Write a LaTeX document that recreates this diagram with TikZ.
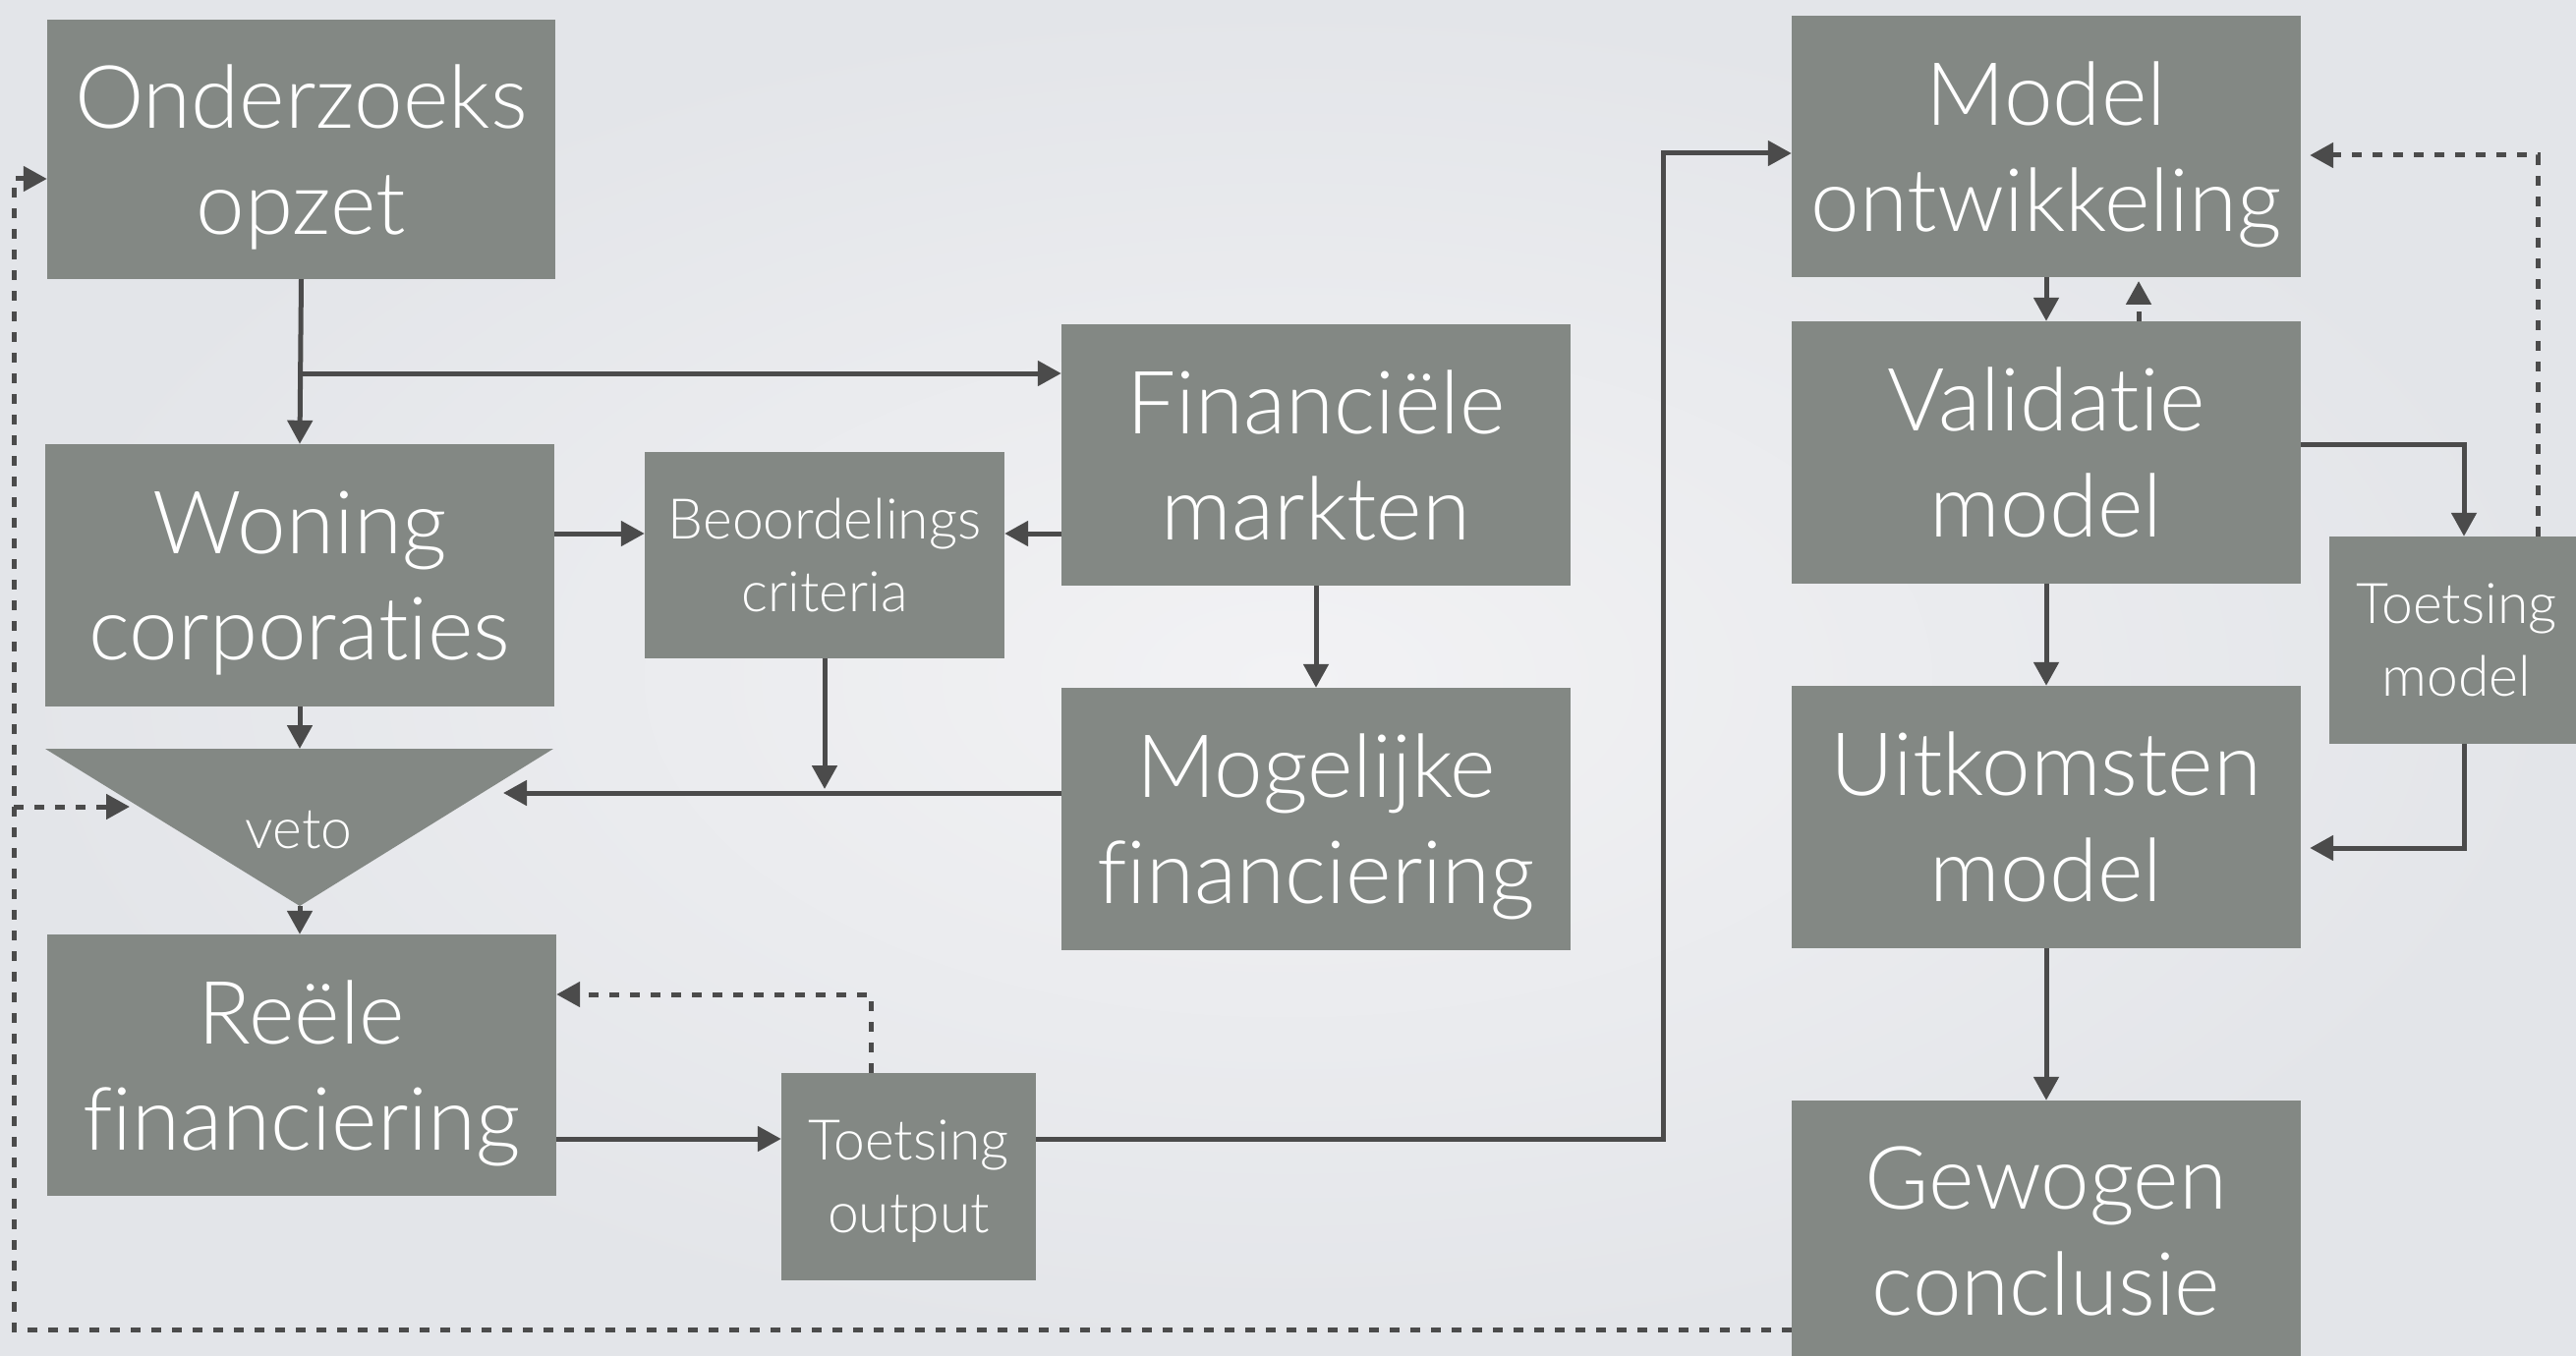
\documentclass[tikz,border=0pt]{standalone}
\usepackage{fontspec}
\setmainfont{Lato}[UprightFont=* Light,Ligatures=NoCommon]
\usetikzlibrary{arrows.meta}
\definecolor{boxgray}{HTML}{838884}
\definecolor{linegray}{HTML}{4B4B4B}
\definecolor{bgin}{HTML}{F2F2F4}
\definecolor{bgout}{HTML}{E3E5E9}

\begin{document}
\begin{tikzpicture}[x=1pt,y=-1pt,
  % labels are centred on their letters, descenders ignored
  blok/.style={fill=boxgray,text=white,inner sep=0pt,align=center,text depth=0pt},
  bigbox/.style={blok,minimum width=518pt,minimum height=266pt,font=\fontsize{89}{108}\selectfont},
  smallbox/.style={blok,font=\fontsize{57}{74}\selectfont},
  flow/.style={draw=linegray,line width=5pt,-{Triangle[length=24pt,width=25pt]}},
  back/.style={flow,dash pattern=on 10pt off 11pt},
]
% page and soft background
\useasboundingbox (0,0) rectangle (2621,1380);
\shade[inner color=bgin,outer color=bgout] (0,0) rectangle (2621,1380);

% left column
\node[bigbox,minimum width=517pt,minimum height=264pt] (onder) at (306.5,152) {Onderzoeks\\opzet};
\node[bigbox,minimum height=267pt] (woning) at (305,585.5) {Woning\\corporaties};
\node[smallbox,minimum width=366pt,minimum height=210pt] (beoord) at (839,565) {Beoordelings\\criteria};
\node[bigbox] (finmkt) at (1339,463) {Financiële\\markten};
\node[bigbox,minimum height=267pt] (mogel) at (1339,833.5) {Mogelijke\\financiering};
\node[bigbox] (reeel) at (307,1084) {Reële\\financiering};
\node[smallbox,minimum width=259pt,minimum height=211pt] (toutput) at (924.5,1197.5) {Toetsing\\output};

% veto funnel
\coordinate (vTL) at (46,762);
\coordinate (vTR) at (563,762);
\coordinate (vB) at (305,922);
\fill[boxgray] (vTL) -- (vTR) -- (vB) -- cycle;
\node[text=white,inner sep=0pt,font=\fontsize{57}{74}\selectfont] (veto) at (304,845) {veto};

% right column
\node[bigbox] (modelont) at (2082,149) {Model\\ontwikkeling};
\node[bigbox,minimum height=267pt] (valid) at (2082,460.5) {Validatie\\model};
\node[bigbox,minimum height=267pt] (uitk) at (2082,831.5) {Uitkomsten\\model};
\node[bigbox] (gewog) at (2082,1253) {Gewogen\\conclusie};
\node[smallbox,minimum width=259pt,minimum height=211pt] (tmodel) at (2499.5,651.5) {Toetsing\\model};

% helper rows and bends
\coordinate (r380) at (0,380);
\coordinate (r543) at (0,543);
\coordinate (r803) at (0,803);
\coordinate (r1159) at (0,1159);
\coordinate (vR) at (512,807);
\coordinate (vL) at (132,821);
\coordinate (tdash) at (886,1012);
\coordinate (up) at (1692,156);
\coordinate (vu) at (2176,286);
\coordinate (vt) at (2507,452);
\coordinate (tu) at (2507,863);
\coordinate (tb) at (2582,158);
\coordinate (lb) at (14,1353);
\coordinate (lt) at (14,182);
\coordinate (lv) at (14,821);

% solid flow
\draw[flow] (onder.south) -- (woning.north);
\draw[flow] (onder.south |- r380) -- (finmkt.west |- r380);
\draw[flow] (woning.east |- r543) -- (beoord.west |- r543);
\draw[flow] (finmkt.west |- r543) -- (beoord.east |- r543);
\draw[flow] (finmkt.south) -- (mogel.north);
\draw[flow] (mogel.west |- vR) -- (vR);
\draw[flow] (beoord.south) -- (beoord.south |- r803);
\draw[flow] (woning.south) -- (woning.south |- vTL);
\draw[flow] (vB) -- (vB |- reeel.north);
\draw[flow] (reeel.east |- r1159) -- (toutput.west |- r1159);
\draw[flow] (toutput.east |- r1159) -| (up) -- (modelont.west |- up);
\draw[flow] (modelont.south) -- (valid.north);
\draw[flow] (valid.east |- vt) -| (tmodel.north -| vt);
\draw[flow] (tmodel.south -| tu) |- ([xshift=9pt]uitk.east |- tu);
\draw[flow] (valid.south) -- (uitk.north);
\draw[flow] (uitk.south) -- (gewog.north);

% dashed feedback
\draw[back] (toutput.north -| tdash) -- (tdash) -- (reeel.east |- tdash);
\draw[back] (valid.north -| vu) -- (vu);
\draw[back] (tmodel.north -| tb) |- ([xshift=9pt]modelont.east |- tb);
\draw[back] (gewog.west |- lb) -- (lb) -- (lt) -- (onder.west |- lt);
\draw[back] (lv) -- (vL);
\end{tikzpicture}
\end{document}
